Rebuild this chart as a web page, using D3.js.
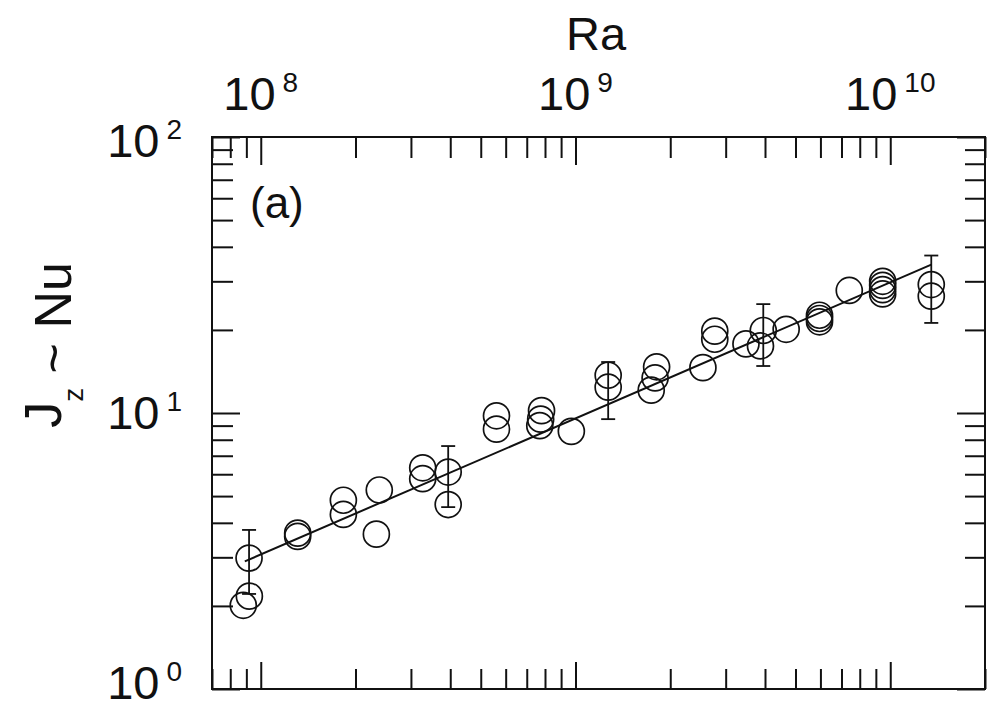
<!DOCTYPE html>
<html>
<head>
<meta charset="utf-8">
<script src="https://cdn.jsdelivr.net/npm/d3@7"></script>
<style>
  body { margin: 0; background: #fff; }
  text { font-family: "Liberation Sans", Arial, Helvetica, sans-serif; fill: #111; }
</style>
</head>
<body>
<div id="chart"></div>
<script>
// data
const raValues = [9.18e7, 8.8e7, 9.2e7, 1.31e8, 1.31e8, 1.83e8, 1.83e8, 2.38e8, 2.33e8,
  3.27e8, 3.27e8, 3.94e8, 3.94e8, 5.61e8, 5.61e8, 7.8e8, 7.75e8, 7.7e8, 9.7e8,
  1.27e9, 1.27e9, 1.81e9, 1.79e9, 1.74e9, 2.54e9, 2.77e9, 2.77e9, 3.48e9, 3.95e9, 3.87e9,
  4.67e9, 5.96e9, 5.96e9, 5.96e9, 7.41e9, 9.46e9, 9.46e9, 9.46e9, 9.46e9, 1.35e10, 1.35e10];
const nuValues = [2.98, 2.01, 2.17, 3.67, 3.57, 4.83, 4.29, 5.26, 3.64,
  6.33, 5.78, 6.11, 4.66, 9.77, 8.74, 10.2, 9.5, 9.0, 8.58,
  13.7, 12.4, 14.7, 13.4, 12.1, 14.6, 19.8, 18.5, 17.8, 19.9, 17.5,
  20.1, 22.6, 22.0, 21.4, 27.8, 30.0, 29.0, 28.0, 27.0, 29.2, 26.5];

const errRa = [9.18e7, 3.94e8, 1.27e9, 3.95e9, 1.35e10];
const errLow = [2.21, 4.56, 9.5, 14.8, 21.2];
const errHigh = [3.77, 7.59, 15.3, 24.8, 37.2];

const fitRa = [8.9e7, 1.35e10];
const fitNu = [2.9, 34.5];

const xMajor = [1e8, 1e9, 1e10];
const xExp = ["8", "9", "10"];
const yMajor = [1, 10, 100];
const yExp = ["0", "1", "2"];

const width = 987, height = 709;
const box = { left: 212, right: 985, top: 137, bottom: 689 };

const svg = d3.select("#chart").append("svg")
  .attr("width", width)
  .attr("height", height);

const x = d3.scaleLog().domain([7e7, 2e10]).range([box.left, box.right]);
const y = d3.scaleLog().domain([1, 100]).range([box.bottom, box.top]);

const xMinor = x.ticks().filter(v => !xMajor.includes(v));
const yMinor = y.ticks().filter(v => !yMajor.includes(v));

// ticks, all pointing inward
function ticks(axis, tr) {
  const g = svg.append("g").attr("transform", tr).call(axis);
  g.select(".domain").remove();
  g.selectAll("line").attr("stroke", "#111").attr("stroke-width", 2);
}
ticks(d3.axisBottom(x).tickValues(xMinor).tickSize(-20).tickFormat(""), "translate(0," + box.bottom + ")");
ticks(d3.axisBottom(x).tickValues(xMajor).tickSize(-27).tickFormat(""), "translate(0," + box.bottom + ")");
ticks(d3.axisTop(x).tickValues(xMinor).tickSize(-21).tickFormat(""), "translate(0," + box.top + ")");
ticks(d3.axisTop(x).tickValues(xMajor).tickSize(-28).tickFormat(""), "translate(0," + box.top + ")");
ticks(d3.axisLeft(y).tickValues(yMinor).tickSize(-21).tickFormat(""), "translate(" + box.left + ",0)");
ticks(d3.axisLeft(y).tickValues(yMajor).tickSize(-28).tickFormat(""), "translate(" + box.left + ",0)");
ticks(d3.axisRight(y).tickValues(yMinor).tickSize(-20).tickFormat(""), "translate(" + box.right + ",0)");
ticks(d3.axisRight(y).tickValues(yMajor).tickSize(-28).tickFormat(""), "translate(" + box.right + ",0)");

// frame
svg.append("rect")
  .attr("x", box.left).attr("y", box.top)
  .attr("width", box.right - box.left).attr("height", box.bottom - box.top)
  .attr("fill", "none").attr("stroke", "#111").attr("stroke-width", 2);

// tick labels with superscripts
const xl = svg.selectAll(null).data(xMajor).enter().append("text")
  .attr("x", d => x(d)).attr("y", 110)
  .attr("text-anchor", "middle")
  .style("font-size", "47px");
xl.append("tspan").text("10");
xl.append("tspan").attr("dx", 7).attr("dy", -18).style("font-size", "28px").text((d, i) => xExp[i]);

// bottom label sits a bit higher, top one a bit lower (as in the scan)
const yShift = d => d === 1 ? 10 : d === 100 ? 20 : 16;
const yl = svg.selectAll(null).data(yMajor).enter().append("text")
  .attr("x", 182).attr("y", d => y(d) + yShift(d))
  .attr("text-anchor", "end")
  .style("font-size", "47px");
yl.append("tspan").text("10");
yl.append("tspan").attr("dx", 7).attr("dy", -18).style("font-size", "28px").text((d, i) => yExp[i]);

// titles
svg.append("text")
  .attr("x", 596).attr("y", 50)
  .attr("text-anchor", "middle")
  .style("font-size", "47px")
  .text("Ra");

const yt = svg.append("text")
  .attr("transform", "translate(71,345) rotate(-90)")
  .attr("text-anchor", "middle")
  .style("font-size", "52px");
yt.append("tspan").attr("dy", -10).text("J");
yt.append("tspan").attr("dy", 22).style("font-size", "28px").text("z");
yt.append("tspan").attr("dy", -12).text("\u00a0~\u00a0Nu");

svg.append("text")
  .attr("x", 250).attr("y", 218)
  .style("font-size", "44px")
  .text("(a)");

// fit line
const pts = fitRa.map((r, i) => [r, fitNu[i]]);
svg.append("path")
  .attr("d", d3.line().x(d => x(d[0])).y(d => y(d[1]))(pts))
  .attr("fill", "none").attr("stroke", "#111").attr("stroke-width", 2);

// error bars
const eb = svg.selectAll(null).data(errRa).enter().append("g")
  .attr("stroke", "#111").attr("stroke-width", 1.8);
eb.append("line")
  .attr("x1", d => x(d)).attr("x2", d => x(d))
  .attr("y1", (d, i) => y(errLow[i])).attr("y2", (d, i) => y(errHigh[i]));
eb.append("line")
  .attr("x1", d => x(d) - 7).attr("x2", d => x(d) + 7)
  .attr("y1", (d, i) => y(errLow[i])).attr("y2", (d, i) => y(errLow[i]));
eb.append("line")
  .attr("x1", d => x(d) - 7).attr("x2", d => x(d) + 7)
  .attr("y1", (d, i) => y(errHigh[i])).attr("y2", (d, i) => y(errHigh[i]));

// open circles
svg.selectAll(null).data(raValues).enter().append("circle")
  .attr("cx", d => x(d))
  .attr("cy", (d, i) => y(nuValues[i]))
  .attr("r", 13)
  .attr("fill", "none")
  .attr("stroke", "#111")
  .attr("stroke-width", 1.7);
</script>
</body>
</html>
